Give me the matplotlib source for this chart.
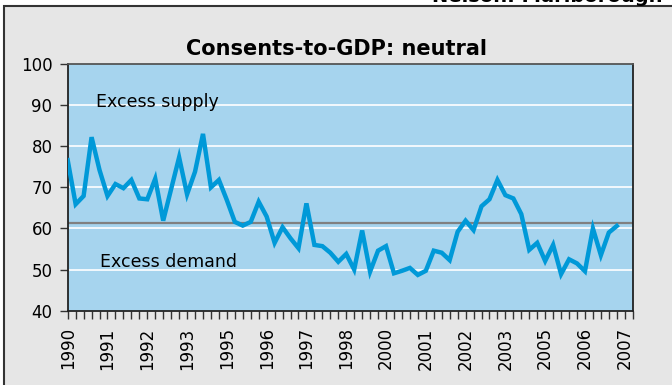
import numpy as np
import matplotlib.pyplot as plt
from matplotlib.patches import Rectangle

# quarterly consents-to-GDP ratio, 1990 Q1 onwards
ratio = [76.6, 65.9, 67.9, 82.2, 74.2, 67.9, 70.8, 69.8, 71.8, 67.3,
         67.1, 72.1, 61.9, 69.6, 77.3, 68.3, 73.8, 83.0, 70.0, 71.8,
         66.9, 61.6, 60.7, 61.6, 66.5, 62.9, 56.5, 60.3, 57.6, 55.2,
         66.1, 56.0, 55.7, 54.1, 51.9, 53.8, 50.0, 59.5, 49.5, 54.6,
         55.7, 49.1, 49.7, 50.4, 48.7, 49.7, 54.6, 54.1, 52.3, 59.2,
         61.9, 59.6, 65.4, 67.1, 71.8, 68.1, 67.3, 63.5, 54.8, 56.5,
         52.1, 56.0, 48.9, 52.5, 51.5, 49.6, 60.0, 53.5, 59.0, 60.6]
neutral = 61.4

# category axis runs 1990 Q1 .. 2007 Q4, labelled every fifth quarter
years = [1990 + q // 4 for q in range(72)]
label_pos = list(range(0, 72, 5))
label_txt = [str(years[i]) for i in label_pos]

fig = plt.figure(figsize=(6.72, 3.85), dpi=100)
fig.patch.set_facecolor("white")
fig.patches.append(Rectangle((4 / 672, -0.1), 1.1, 1.1 - 6 / 385,
                             transform=fig.transFigure, facecolor="#e6e6e6",
                             edgecolor="#333333", linewidth=1.5, zorder=-5))

fig.text(662 / 672, 1 - 2 / 385, "Nelson: Marlborough", ha="right",
         va="baseline", fontsize=14, fontweight="bold")

ax = fig.add_axes([67.7 / 672, 1 - 310.7 / 385, 565 / 672, 246.7 / 385])
ax.set_facecolor("#a6d4ee")

ax.set_yticks(range(40, 101, 10))
for v in range(50, 100, 10):
    ax.axhline(v, color="white", linewidth=1.2, zorder=1)
ax.axhline(neutral, color="#808080", linewidth=1.6, zorder=2)

x = np.arange(len(ratio))
ax.plot(x, ratio, color="#0099d8", linewidth=3.2, solid_joinstyle="miter", zorder=3)

ax.set_xlim(0, 71)
ax.set_ylim(40, 100)
ax.set_xticks(label_pos)
ax.set_xticklabels(label_txt, rotation=90, fontsize=12)
ax.set_xticks(range(72), minor=True)
ax.tick_params(axis="x", which="both", length=6, width=1, color="#333333", pad=6)
ax.tick_params(axis="y", length=6, width=1, color="#333333", labelsize=12, pad=5)
for s in ax.spines.values():
    s.set_linewidth(1.3)
    s.set_color("#222222")
ax.spines["top"].set_color("#555555")

ax.text(3.55, 89.6, "Excess supply", fontsize=12.5, va="baseline")
ax.text(4.06, 50.7, "Excess demand", fontsize=12.5, va="baseline")

fig.text(336 / 672, 1 - 55 / 385, "Consents-to-GDP: neutral", ha="center",
         va="baseline", fontsize=15, fontweight="bold")

fig.savefig("out.png", dpi=100)
